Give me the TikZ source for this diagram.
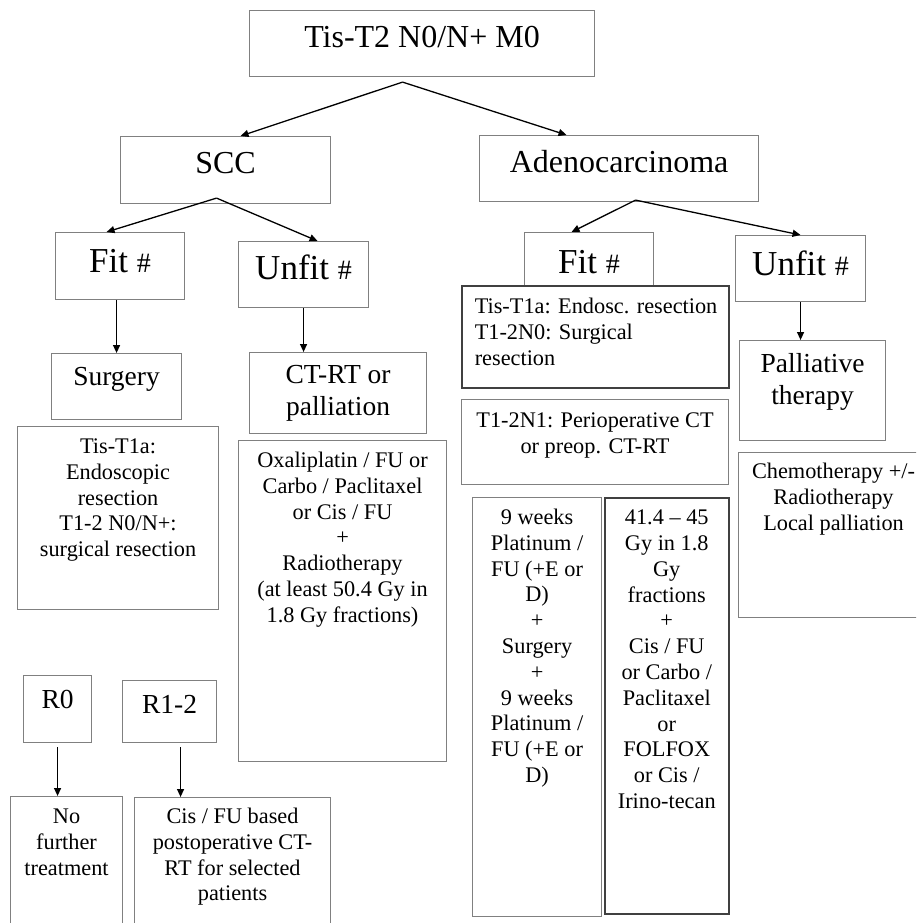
\documentclass[tikz,border=0pt]{standalone}
\usepackage{fontspec}
\setmainfont{Liberation Serif}
\usetikzlibrary{arrows.meta}
\definecolor{boxgray}{gray}{0.5}
\definecolor{boxdark}{gray}{0.25}
% box text: [align]{width}{height}{first baseline}{text}
\newcommand{\cell}[5][\centering]{\parbox[t][#3pt][t]{#2pt}{#1\vspace*{\dimexpr#4pt-0.7\baselineskip\relax}\strut#5}}
\newcommand{\hsh}{{\fontsize{28}{32}\selectfont\#}}

\begin{document}
\begin{tikzpicture}[x=1pt, y=-1pt,
		box/.style={draw=boxgray, line width=1.1pt, anchor=north west, inner sep=0pt},
		boxdk/.style={box, draw=boxdark, line width=1.5pt},
		big/.style={font=\fontsize{32}{36}\selectfont},
		fit/.style={font=\fontsize{35}{40}\selectfont},
		mid/.style={font=\fontsize{27.5}{31.5}\selectfont},
		sml/.style={font=\fontsize{22.3}{25.8}\selectfont},
		arr/.style={-{Triangle[length=8pt,width=7pt]}, line width=1.3pt}]
	\clip (0,0) rectangle (916,923);
	% stage and histology
	\node[box, big] (stage) at (249,10) {\cell{345}{66}{37}{Tis-T2 N0/N+ M0}};
	\node[box, big] (scc) at (120,136) {\cell{210}{67}{37}{SCC}};
	\node[box, big] (adeno) at (479,135) {\cell{279}{66}{37}{Adenocarcinoma}};
	% fit / unfit
	\node[box, fit] (fitS) at (55,232) {\cell{129}{67}{40}{Fit \hsh}};
	\node[box, fit] (unfitS) at (238,241) {\cell{130}{66}{38}{Unfit \hsh}};
	\node[box, fit] (fitA) at (524,232) {\cell{129}{54}{41}{Fit \hsh}};
	\node[box, fit] (unfitA) at (735,235) {\cell{130}{66}{40}{Unfit \hsh}};
	% SCC branch
	\node[box, mid] (surg) at (51,353) {\cell{130}{66}{32}{Surgery}};
	\node[box, mid] (ctrt) at (249,352) {\cell{177}{81}{31}{CT-RT or\\palliation}};
	\node[box, sml] (tisS) at (17,426) {\cell{201}{183}{27}{Tis-T1a:\\Endoscopic\\resection\\T1-2 N0/N+:\\surgical resection}};
	\node[box, sml] (oxa) at (238,440) {\cell{208}{321}{27}{Oxaliplatin / FU or\\Carbo / Paclitaxel\\or Cis / FU\\+\\Radiotherapy\\(at least 50.4 Gy in\\1.8 Gy fractions)}};
	\node[box, mid] (r0) at (23,675) {\cell{68}{67}{33}{R0}};
	\node[box, mid] (r12) at (122,680) {\cell{94}{62}{33}{R1-2}};
	\node[box, sml] (nft) at (10,796) {\cell{112}{140}{27}{No\\further\\treatment}};
	\node[box, sml] (cisfu) at (134,797) {\cell{196}{140}{26}{Cis / FU based\\postoperative CT-\\RT for selected\\patients}};
	% adenocarcinoma branch
	\node[boxdk, sml] (listA) at (461,285) {\cell[\raggedright\leftskip=13pt\relax]{267}{102}{28}{Tis-T1a: Endosc. resection\\T1-2N0: Surgical\\resection}};
	\node[box, sml] (periop) at (461,399) {\cell{267}{85}{28}{T1-2N1: Perioperative CT\\or preop. CT-RT}};
	\node[box, sml] (wks) at (472,497) {\cell{129}{419}{27}{9 weeks\\Platinum /\\FU (+E or\\D)\\+\\Surgery\\+\\9 weeks\\Platinum /\\FU (+E or\\D)}};
	\node[boxdk, sml] (gy) at (604,497) {\cell{124}{416}{27}{41.4 -- 45\\Gy in 1.8\\Gy\\fractions\\+\\Cis / FU\\or Carbo /\\Paclitaxel\\or\\FOLFOX\\or Cis /\\Irino-tecan}};
	\node[box, mid] (pall) at (739,340) {\cell{146}{100}{32}{Palliative\\therapy}};
	\node[box, sml] (chemo) at (738,452) {\cell{190}{165}{26}{Chemotherapy +/-\\Radiotherapy\\Local palliation}};
	% connectors
	\coordinate (stageout) at ([xshift=-19.5pt,yshift=-5pt]stage.south);
	\draw[arr] (stageout) -- ([xshift=15pt]scc.north);
	\draw[arr] (stageout) -- ([xshift=-52.5pt]adeno.north);
	\coordinate (sccout) at ([xshift=-9pt,yshift=6pt]scc.south);
	\draw[arr] (sccout) -- ([xshift=-13.5pt]fitS.north);
	\draw[arr] (sccout) -- ([xshift=14pt]unfitS.north);
	\coordinate (adenoout) at ([xshift=16.5pt,yshift=2pt]adeno.south);
	\draw[arr] (adenoout) -- ([xshift=-17.5pt]fitA.north);
	\draw[arr] (adenoout) -- (unfitA.north);
	\draw[arr] (surg.north |- fitS.south) -- (surg.north);
	\draw[arr] (unfitS.south) -- (unfitS.south |- ctrt.north);
	\draw[arr] (unfitA.south) -- (unfitA.south |- pall.north);
	\coordinate (r0out) at ([yshift=-4pt]r0.south);
	\draw[arr] (r0out) -- (r0out |- nft.north);
	\coordinate (r12out) at ([xshift=11pt,yshift=-4pt]r12.south);
	\draw[arr] (r12out) -- (r12out |- cisfu.north);
\end{tikzpicture}
\end{document}
